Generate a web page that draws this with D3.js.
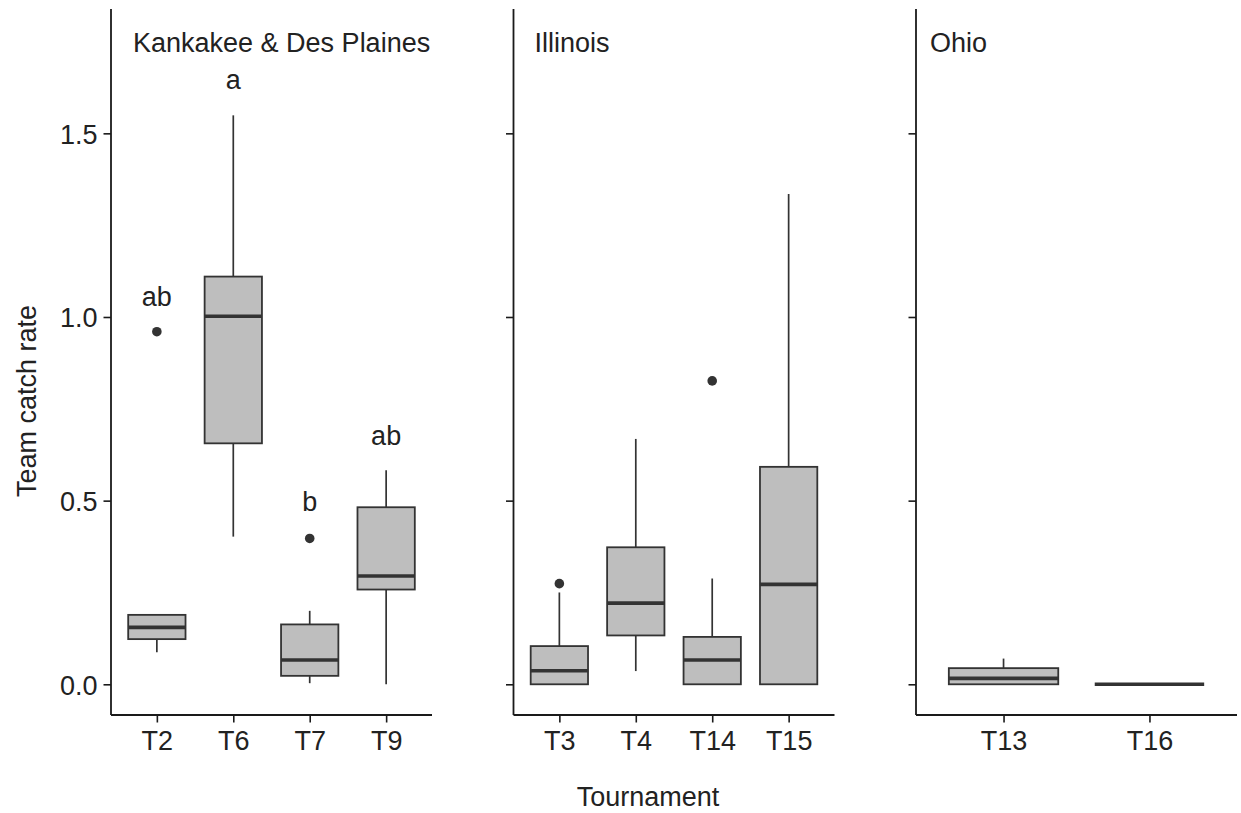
<!DOCTYPE html>
<html>
<head>
<meta charset="utf-8">
<script src="https://cdn.jsdelivr.net/npm/d3@7"></script>
<style>
  html, body { margin: 0; padding: 0; background: #fff; }
  svg { display: block; }
  text { font-family: "Liberation Sans", Arial, sans-serif; fill: #222; }
</style>
</head>
<body>
<svg id="chart" width="1241" height="813"></svg>
<script>
// Facets (river systems) and the tournaments within each
const regions = ["Kankakee & Des Plaines", "Illinois", "Ohio"];
const tournaments = [
  ["T2", "T6", "T7", "T9"],
  ["T3", "T4", "T14", "T15"],
  ["T13", "T16"]
];

// Box-plot summaries of team catch rate per tournament
const tournamentIds = ["T2", "T6", "T7", "T9", "T3", "T4", "T14", "T15", "T13", "T16"];
const whiskerLow  = [0.087, 0.402, 0.003, 0.000, 0.000, 0.036, 0.000, 0.000, 0.000, 0.000];
const quart1      = [0.123, 0.656, 0.023, 0.258, 0.000, 0.133, 0.000, 0.000, 0.000, 0.000];
const medians     = [0.155, 1.002, 0.066, 0.295, 0.037, 0.221, 0.066, 0.272, 0.016, 0.000];
const quart3      = [0.189, 1.110, 0.163, 0.482, 0.104, 0.373, 0.129, 0.592, 0.044, 0.000];
const whiskerHigh = [0.189, 1.549, 0.200, 0.583, 0.250, 0.668, 0.288, 1.335, 0.070, 0.000];
const outliers    = [[0.960], [], [0.397], [], [0.274], [], [0.826], [], [], []];

// Compact-letter display (Kankakee & Des Plaines only)
const letterIds    = ["T2", "T6", "T7", "T9"];
const letterLabels = ["ab", "a", "b", "ab"];
const letterY      = [1.06, 1.65, 0.50, 0.68];

// Y-axis ticks
const yTicks = [0.0, 0.5, 1.0, 1.5];
const yTickLabels = ["0.0", "0.5", "1.0", "1.5"];

// Layout
const panelTop = 9, panelBottom = 715;
const firstPanelLeft = 111, panelWidth = 321, panelStep = 402.5;
const stripOffsets = [22, 21, 14];
const stripBaseline = 52;
const fontSize = 27;
const boxStroke = "#333333", boxFill = "#bebebe";

const svg = d3.select("#chart");

const y = d3.scaleLinear().domain([-0.0836, 1.8385]).range([panelBottom, panelTop]);

const stats = new Map(tournamentIds.map((id, i) => [id, {
  lo: whiskerLow[i], q1: quart1[i], med: medians[i], q3: quart3[i], hi: whiskerHigh[i], out: outliers[i]
}]));
const letters = new Map(letterIds.map((id, i) => [id, { label: letterLabels[i], y: letterY[i] }]));

regions.forEach((region, p) => {
  const left = firstPanelLeft + p * panelStep;
  const x = d3.scalePoint().domain(tournaments[p]).range([left, left + panelWidth]).padding(0.6);
  const boxW = x.step() * 0.75;
  const g = svg.append("g");

  // Y axis
  const yAxis = d3.axisLeft(y).tickValues(yTicks).tickSize(7.5).tickPadding(6)
    .tickFormat((d, i) => p === 0 ? yTickLabels[i] : "");
  const ya = g.append("g").attr("transform", `translate(${left},0)`).call(yAxis);
  ya.select(".domain").attr("d", `M0,${panelTop}V${panelBottom}`);

  // X axis
  const xAxis = d3.axisBottom(x).tickSize(7.5).tickPadding(8);
  const xa = g.append("g").attr("transform", `translate(0,${panelBottom})`).call(xAxis);
  xa.select(".domain").attr("d", `M${left},0H${left + panelWidth}`);

  [ya, xa].forEach(a => {
    a.select(".domain").attr("stroke", "#1a1a1a").attr("stroke-width", 1.8);
    a.selectAll(".tick line").attr("stroke", "#1a1a1a").attr("stroke-width", 1.6);
    a.selectAll(".tick text").attr("font-size", fontSize).attr("fill", "#2a2a2a")
      .style("font-family", '"Liberation Sans", Arial, sans-serif');
  });
  xa.selectAll(".tick text").attr("dy", "0.71em");
  ya.selectAll(".tick text").attr("dy", "0.36em");

  // Boxes
  tournaments[p].forEach(id => {
    const s = stats.get(id);
    const cx = x(id);
    const bg = g.append("g");
    // whiskers
    if (s.hi > s.q3) bg.append("line").attr("x1", cx).attr("x2", cx).attr("y1", y(s.q3)).attr("y2", y(s.hi))
      .attr("stroke", boxStroke).attr("stroke-width", 1.7);
    if (s.lo < s.q1) bg.append("line").attr("x1", cx).attr("x2", cx).attr("y1", y(s.q1)).attr("y2", y(s.lo))
      .attr("stroke", boxStroke).attr("stroke-width", 1.7);
    // box
    bg.append("rect").attr("x", cx - boxW / 2).attr("width", boxW)
      .attr("y", y(s.q3)).attr("height", Math.max(0, y(s.q1) - y(s.q3)))
      .attr("fill", boxFill).attr("stroke", boxStroke).attr("stroke-width", 1.8);
    // median
    bg.append("line").attr("x1", cx - boxW / 2).attr("x2", cx + boxW / 2)
      .attr("y1", y(s.med)).attr("y2", y(s.med))
      .attr("stroke", boxStroke).attr("stroke-width", 3.6);
    // outliers
    s.out.forEach(v => {
      bg.append("circle").attr("cx", cx).attr("cy", y(v)).attr("r", 4.8).attr("fill", boxStroke);
    });
    // letters
    if (p === 0 && letters.has(id)) {
      const L = letters.get(id);
      g.append("text").attr("x", cx).attr("y", y(L.y)).attr("dy", "0.4em")
        .attr("text-anchor", "middle").attr("font-size", fontSize).text(L.label);
    }
  });

  // Region label
  g.append("text").attr("x", left + stripOffsets[p]).attr("y", stripBaseline)
    .attr("font-size", fontSize).text(region);
});

// Axis titles
svg.append("text").attr("x", 648).attr("y", 806).attr("text-anchor", "middle")
  .attr("font-size", fontSize).text("Tournament");
svg.append("text").attr("transform", "translate(36,401) rotate(-90)").attr("text-anchor", "middle")
  .attr("font-size", fontSize).text("Team catch rate");
</script>
</body>
</html>
